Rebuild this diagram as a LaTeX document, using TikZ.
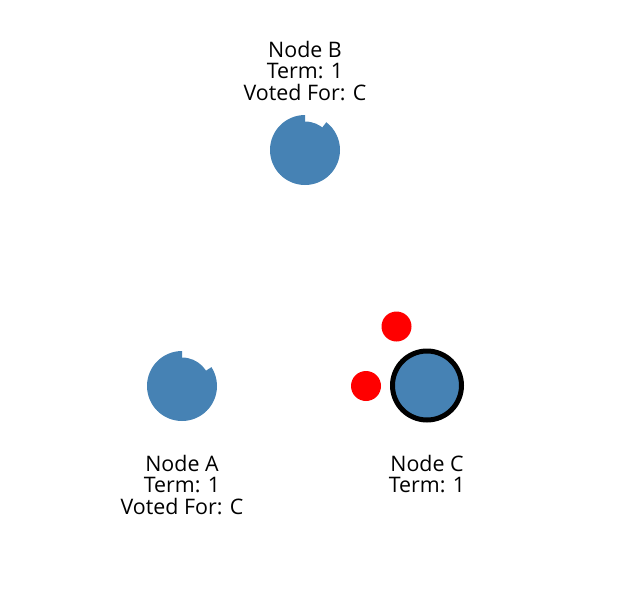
\documentclass[tikz,border=0pt]{standalone}
\usepackage{fontspec}
\setmainfont{Open Sans}
\definecolor{steelblue}{HTML}{4682B4}

\begin{document}
\begin{tikzpicture}[x=1pt, y=-1pt,
    label/.style={align=center, inner sep=0pt, font=\fontsize{21.4}{21.6}\selectfont},
    peer/.style={fill=steelblue, draw=none},
    msg/.style={circle, fill=red, minimum size=30pt, inner sep=0pt}]

    \useasboundingbox (0,0) rectangle (643,598);

    % 1. 跟随者 (带计时器缺口)
    \fill[steelblue] (305,150) circle (28.5);
    \fill[steelblue] (305,150) -- ++(-90:35) arc[start angle=-90, end angle=-412.5, radius=35] -- cycle;
    \node[label] (lb) at (305,71) {Node B\\Term: 1\\Voted For: C};

    \fill[steelblue] (182,386) circle (28.5);
    \fill[steelblue] (182,386) -- ++(-90:35) arc[start angle=-90, end angle=-392.6, radius=35] -- cycle;
    \node[label] (la) at (182,485) {Node A\\Term: 1\\Voted For: C};

    % 2. 候选者 C
    \node[circle, fill=steelblue, draw=black, line width=5pt, minimum size=69pt, inner sep=0pt] (c) at (427,385.5) {};
    \node[label] (lc) at (427,474) {Node C\\Term: 1};

    % 3. 投票消息
    \node[msg] (m1) at (396.5,326.5) {};
    \node[msg] (m2) at (366,386) {};
\end{tikzpicture}
\end{document}
